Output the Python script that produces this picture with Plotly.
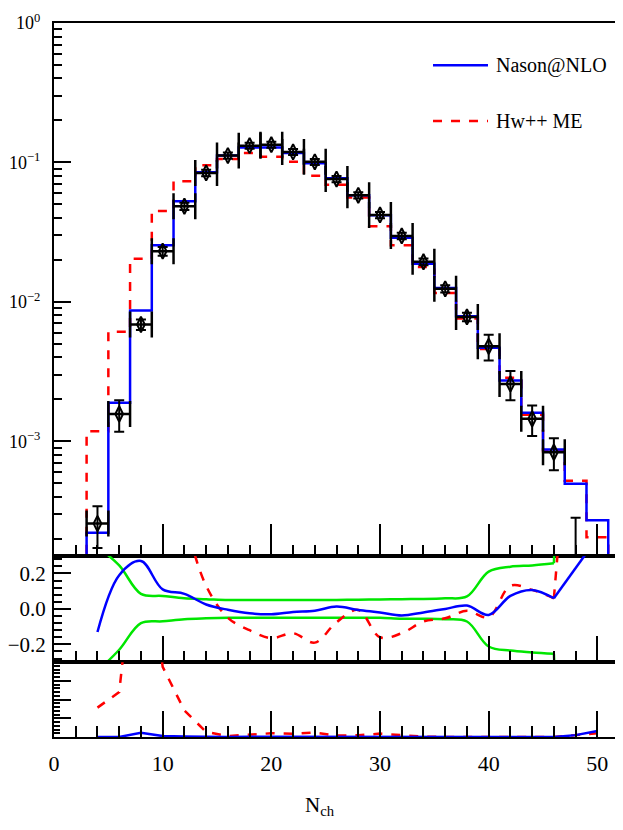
import plotly.graph_objects as go
from plotly.subplots import make_subplots

# charged multiplicity, bin centres (bins are 2 wide)
nch = [4, 6, 8, 10, 12, 14, 16, 18, 20, 22, 24, 26,
       28, 30, 32, 34, 36, 38, 40, 42, 44, 46, 48, 50]

nason = [2.21e-4, 1.89e-3, 8.66e-3, 2.55e-2, 5.26e-2, 8.5e-2, 0.112, 0.128,
         0.128, 0.117, 0.0985, 0.0769, 0.0581, 0.0418, 0.0288, 0.0188,
         0.0126, 7.88e-3, 4.68e-3, 2.73e-3, 1.60e-3, 8.73e-4, 4.96e-4, 2.72e-4]
hwme = [1.18e-3, 6.1e-3, 2.04e-2, 4.49e-2, 7.32e-2, 9.53e-2, 0.106, 0.117,
        0.110, 0.101, 0.0804, 0.0693, 0.056, 0.0348, 0.0255, 0.0178,
        0.0116, 7.6e-3, 4.6e-3, 2.86e-3, 1.55e-3, 8.5e-4, 5.21e-4, 2.05e-4]

data_n = [4, 6, 8, 10, 12, 14, 16, 18, 20, 22, 24, 26,
          28, 30, 32, 34, 36, 38, 40, 42, 44, 46, 48]
data_val = [2.57e-4, 1.57e-3, 6.88e-3, 2.31e-2, 4.85e-2, 8.41e-2, 0.112, 0.132,
            0.134, 0.119, 0.101, 0.076, 0.0581, 0.042, 0.0297, 0.0194,
            0.0124, 7.8e-3, 4.8e-3, 2.58e-3, 1.45e-3, 8.35e-4, 1.2e-4]
data_err_up = [0.85e-4, 0.4e-3, 0.6e-3, 1.7e-3, 2.9e-3, 4.6e-3, 0.0056, 0.0066,
               0.0067, 0.006, 0.005, 0.0038, 0.003, 0.0022, 0.0016, 0.0011,
               0.00074, 0.00055, 1.0e-3, 0.61e-3, 0.36e-3, 0.215e-3, 1.63e-4]
data_err_dn = [0.85e-4, 0.4e-3, 0.6e-3, 1.7e-3, 2.9e-3, 4.6e-3, 0.0056, 0.0066,
               0.0067, 0.006, 0.005, 0.0038, 0.003, 0.0022, 0.0016, 0.0011,
               0.00074, 0.00055, 1.0e-3, 0.61e-3, 0.36e-3, 0.215e-3, 0.6e-4]

# (MC - data) / data
ratio_nason = [-0.13, 0.19, 0.27, 0.11, 0.085, 0.025, -0.005, -0.025, -0.03,
               -0.017, -0.01, 0.013, -0.006, -0.02, -0.037, -0.02, 0.0, 0.019,
               -0.034, 0.073, 0.107, 0.06, 0.23, 0.4]
ratio_hwme = [3.6, 2.9, 1.97, 0.94, 0.51, 0.13, -0.05, -0.12, -0.165, -0.137,
              -0.19, -0.075, -0.006, -0.16, -0.137, -0.071, -0.053, -0.011,
              -0.047, 0.13, 0.107, 0.06, 3.0, 3.0]
band_up = [0.35, 0.245, 0.085, 0.073, 0.06, 0.055, 0.05, 0.05, 0.05, 0.05,
           0.05, 0.05, 0.052, 0.053, 0.055, 0.056, 0.06, 0.07, 0.21, 0.238,
           0.245, 0.257, 3.0, None]
band_dn = [-0.35, -0.23, -0.08, -0.07, -0.058, -0.053, -0.05, -0.05, -0.05,
           -0.05, -0.05, -0.05, -0.05, -0.05, -0.055, -0.055, -0.058, -0.071,
           -0.212, -0.235, -0.245, -0.253, -3.0, None]

# bottom panel (chi2-like)
chi_nason = [0.0, 0.0, 0.23, 0.05, 0.03, 0.01, 0.0, 0.01, 0.01, 0.01, 0.01,
             0.01, 0.0, 0.0, 0.0, 0.0, 0.0, 0.0, 0.0, 0.0, 0.0, 0.0, 0.1, 0.32]
chi_hwme = [1.57, 2.4, 13.0, 3.75, 1.42, 0.27, 0.05, 0.12, 0.2, 0.17, 0.24,
            0.08, 0.09, 0.18, 0.1, 0.02, 0.0, 0.0, 0.0, 0.0, 0.0, 0.0, 0.1, 0.2]

BLUE = "#0000ff"
RED = "#ff0000"
GREEN = "#00e600"
FONT = "Liberation Serif"
X_RANGE = [0, 51.9]


def steps(vals):
    edges = [c - 1 for c in nch] + [nch[-1] + 1]
    floor = 1e-6
    x = [edges[0]] + edges[:-1] + [edges[-1], edges[-1]]
    y = [floor] + vals + [vals[-1], floor]
    return x, y


fig = make_subplots(rows=3, cols=1, shared_xaxes=True, vertical_spacing=0,
                    row_heights=[533.7, 106.7, 75])

# main panel
hx, hy = steps(hwme)
fig.add_trace(go.Scatter(x=hx, y=hy, mode="lines", line_shape="hv",
                         line=dict(color=RED, width=2.5, dash="dash")), row=1, col=1)
nx, ny = steps(nason)
fig.add_trace(go.Scatter(x=nx, y=ny, mode="lines", line_shape="hv",
                         line=dict(color=BLUE, width=2.5)), row=1, col=1)
fig.add_trace(go.Scatter(
    x=data_n, y=data_val, mode="markers",
    marker=dict(symbol="diamond-tall-open", size=11, color="black",
                line=dict(color="black", width=2)),
    error_y=dict(type="data", array=data_err_up, arrayminus=data_err_dn,
                 color="black", thickness=2, width=5),
    error_x=dict(type="constant", value=1, color="black", thickness=2.5, width=13)),
    row=1, col=1)

# ratio panel: smooth up to N=46, straight beyond
i46 = nch.index(46)
for vals, color, dash in [(band_up, GREEN, "solid"), (band_dn, GREEN, "solid"),
                          (ratio_hwme, RED, "dash"), (ratio_nason, BLUE, "solid")]:
    fig.add_trace(go.Scatter(x=nch[:i46 + 1], y=vals[:i46 + 1], mode="lines",
                             line=dict(color=color, width=2.5, dash=dash,
                                       shape="spline", smoothing=1.0)),
                  row=2, col=1)
    fig.add_trace(go.Scatter(x=nch[i46:], y=vals[i46:], mode="lines",
                             line=dict(color=color, width=2.5, dash=dash)),
                  row=2, col=1)

# bottom panel
fig.add_trace(go.Scatter(x=nch, y=chi_hwme, mode="lines",
                         line=dict(color=RED, width=2.5, dash="dash")), row=3, col=1)
fig.add_trace(go.Scatter(x=nch, y=chi_nason, mode="lines",
                         line=dict(color=BLUE, width=2.5)), row=3, col=1)

axis_common = dict(showline=True, linecolor="black", linewidth=2, mirror=True,
                   ticks="inside", tickcolor="black", tickwidth=2, showgrid=False,
                   zeroline=False, automargin=False)


def xminor():
    return dict(ticks="inside", dtick=2, tick0=0, ticklen=11,
                tickcolor="black", tickwidth=2, showgrid=False)


y_main = dict(type="log", range=[-3.82, 0], tickmode="array",
              tickvals=[1, 0.1, 0.01, 0.001], ticklen=17,
              minor=dict(ticks="inside", dtick="D1", ticklen=8,
                         tickcolor="black", tickwidth=1.5, showgrid=False))
y_ratio = dict(range=[-0.3, 0.3], tickmode="array", tickvals=[-0.2, 0, 0.2],
               ticklen=17,
               minor=dict(ticks="inside", dtick=0.04, tick0=0, ticklen=8,
                          tickcolor="black", tickwidth=1.5, showgrid=False))
y_chi = dict(range=[0, 4], tickmode="array", tickvals=[1, 2, 3], ticklen=17,
             minor=dict(ticks="inside", dtick=0.2, tick0=0, ticklen=6,
                        tickcolor="black", tickwidth=1.5, showgrid=False))

for r, tl in [(1, 32), (2, 26), (3, 26)]:
    fig.update_xaxes(range=X_RANGE, tickmode="linear", tick0=0, dtick=10,
                     ticklen=tl, showticklabels=(r == 3), minor=xminor(),
                     row=r, col=1, **axis_common)
fig.update_xaxes(tickfont=dict(family=FONT, size=22), ticklabelstandoff=6,
                 row=3, col=1)

fig.update_yaxes(ticktext=["10<sup>0</sup>", "10<sup>−1</sup>",
                           "10<sup>−2</sup>", "10<sup>−3</sup>"],
                 tickfont=dict(family=FONT, size=18), ticklabelstandoff=8,
                 ticklabeloverflow="allow",
                 row=1, col=1, **y_main, **axis_common)
fig.update_yaxes(ticktext=["−0.2", "0.0", "0.2"],
                 tickfont=dict(family=FONT, size=21), ticklabelstandoff=2,
                 ticklabeloverflow="allow",
                 row=2, col=1, **y_ratio, **axis_common)
fig.update_yaxes(showticklabels=False, row=3, col=1, **y_chi, **axis_common)

# mirrored tick axes on the right and on top of every panel
mirror_common = dict(ticks="inside", tickcolor="black", tickwidth=2,
                     showgrid=False, zeroline=False, showline=False,
                     showticklabels=False, automargin=False)
fig.update_layout(
    yaxis4=dict(overlaying="y", anchor="x", side="right", **y_main, **mirror_common),
    yaxis5=dict(overlaying="y2", anchor="x2", side="right", **y_ratio, **mirror_common),
    yaxis6=dict(overlaying="y3", anchor="x3", side="right", **y_chi, **mirror_common),
    xaxis4=dict(overlaying="x", anchor="y", side="top", range=X_RANGE,
                tickmode="linear", tick0=0, dtick=10, ticklen=32,
                minor=xminor(), **mirror_common),
    xaxis5=dict(overlaying="x2", anchor="y2", side="top", range=X_RANGE,
                tickmode="linear", tick0=0, dtick=10, ticklen=22,
                minor=xminor(), **mirror_common),
    xaxis6=dict(overlaying="x3", anchor="y3", side="top", range=X_RANGE,
                tickmode="linear", tick0=0, dtick=10, ticklen=32,
                minor=xminor(), **mirror_common),
)

# legend drawn by hand
fig.add_shape(type="line", xref="paper", yref="paper", x0=0.672, x1=0.7695,
              y0=0.941, y1=0.941, line=dict(color=BLUE, width=2.5))
fig.add_shape(type="line", xref="paper", yref="paper", x0=0.672, x1=0.7695,
              y0=0.8627, y1=0.8627, line=dict(color=RED, width=2.5, dash="dash"))
fig.add_annotation(x=0.78, y=0.941, xref="paper", yref="paper", text="Nason@NLO",
                   showarrow=False, xanchor="left", yanchor="middle",
                   font=dict(family=FONT, size=20, color="black"))
fig.add_annotation(x=0.78, y=0.8627, xref="paper", yref="paper", text="Hw++ ME",
                   showarrow=False, xanchor="left", yanchor="middle",
                   font=dict(family=FONT, size=20, color="black"))

fig.add_annotation(x=0.4415, y=-0.096, xref="paper", yref="paper",
                   text="N<sub>ch</sub>", showarrow=False,
                   xanchor="left", yanchor="middle",
                   font=dict(family=FONT, size=21, color="black"))

# the page body adds an 8px offset, so the figure is sized to fit inside it
fig.update_layout(width=615, height=814, showlegend=False,
                  plot_bgcolor="white", paper_bgcolor="white",
                  margin=dict(l=46, r=5, t=15, b=85),
                  font=dict(family=FONT, color="black"))

fig.write_html("out.html")
